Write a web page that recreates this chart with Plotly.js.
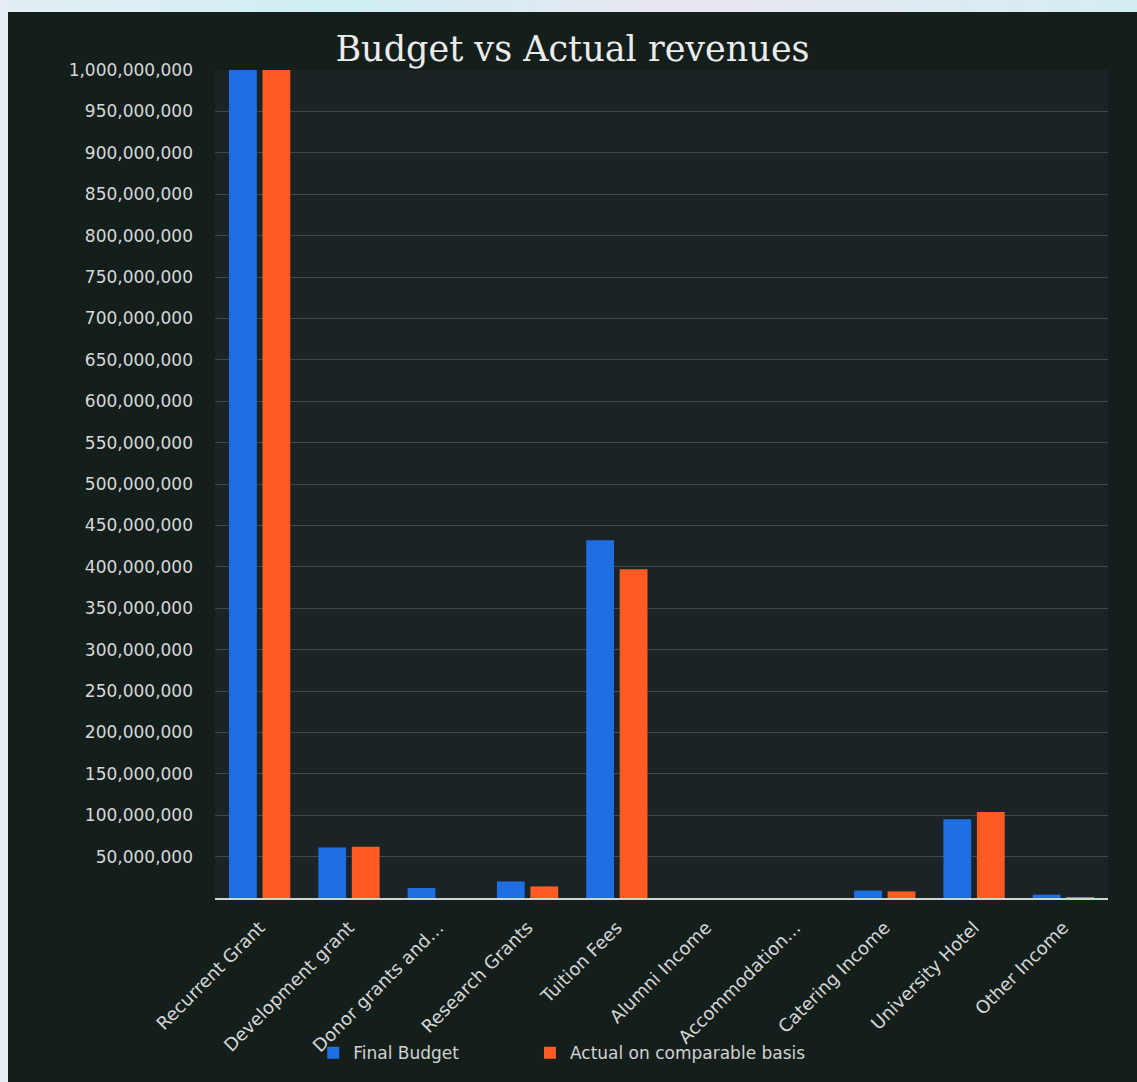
<!DOCTYPE html>
<html>
<head>
<meta charset="utf-8">
<script src="https://cdn.plot.ly/plotly-3.0.1.min.js"></script>
<style>
  html, body { margin: 0; padding: 0; width: 1137px; height: 1082px; overflow: hidden;
    background: linear-gradient(90deg, #e4eef4 0%, #cfeff3 30%, #e9e6f0 60%, #d4eef2 100%); }
  #chart { position: absolute; left: 8px; top: 12px; width: 1129px; height: 1070px; }
</style>
</head>
<body>
<div id="chart"></div>
<script>
const categories = [
  "Recurrent Grant",
  "Development grant",
  "Donor grants and…",
  "Research Grants",
  "Tuition Fees",
  "Alumni Income",
  "Accommodation…",
  "Catering Income",
  "University Hotel",
  "Other Income"
];
const finalBudget = [1000000000, 61000000, 12000000, 20000000, 432000000, 0, 0, 9000000, 95000000, 4000000];
const actualComparable = [1000000000, 62000000, 0, 14000000, 397000000, 0, 0, 8000000, 104000000, 1000000];

const yTickVals = [50000000, 100000000, 150000000, 200000000, 250000000, 300000000, 350000000,
  400000000, 450000000, 500000000, 550000000, 600000000, 650000000, 700000000, 750000000,
  800000000, 850000000, 900000000, 950000000, 1000000000];
const yTickText = ["50,000,000", "100,000,000", "150,000,000", "200,000,000", "250,000,000",
  "300,000,000", "350,000,000", "400,000,000", "450,000,000", "500,000,000", "550,000,000",
  "600,000,000", "650,000,000", "700,000,000", "750,000,000", "800,000,000", "850,000,000",
  "900,000,000", "950,000,000", "1,000,000,000"];

const traces = [
  { type: "bar", name: "Final Budget", x: categories, y: finalBudget, legend: "legend",
    marker: { color: "#1f6fe3" }, hoverinfo: "x+y" },
  { type: "bar", name: "Actual on comparable basis", x: categories, y: actualComparable, legend: "legend2",
    marker: { color: "#ff5b22" }, hoverinfo: "x+y" }
];

const legendFont = { family: "DejaVu Sans, sans-serif", size: 17, color: "#d0d2d2" };

const layout = {
  width: 1129, height: 1070,
  paper_bgcolor: "#141f1c",
  plot_bgcolor: "#1a2427",
  margin: { l: 207, r: 29, t: 58, b: 183 },
  title: { text: "Budget vs Actual revenues", x: 0.5, xanchor: "center", y: 0.966, yanchor: "middle",
    font: { family: "DejaVu Serif, serif", size: 35, color: "#ececec" } },
  barmode: "group",
  bargap: 0.25,
  bargroupgap: 0.17,
  xaxis: {
    type: "category",
    tickangle: -45,
    tickfont: { family: "DejaVu Sans, sans-serif", size: 18, color: "#d4d6d6" },
    showline: true, linecolor: "#cfd3d3", linewidth: 2,
    showgrid: false, ticks: "", zeroline: false, ticklabelstandoff: 10
  },
  yaxis: {
    range: [0, 1000000000],
    tickvals: yTickVals, ticktext: yTickText,
    tickfont: { family: "DejaVu Sans, sans-serif", size: 17, color: "#d6d8d8" },
    showgrid: true, gridcolor: "rgba(200,205,205,0.22)", gridwidth: 1,
    zeroline: false, showline: false, ticks: "", ticklabelstandoff: 21
  },
  legend: {
    orientation: "h", x: 0.110, xanchor: "left", y: -0.186, yanchor: "middle",
    font: legendFont, bgcolor: "rgba(0,0,0,0)"
  },
  legend2: {
    orientation: "h", x: 0.3527, xanchor: "left", y: -0.186, yanchor: "middle",
    font: legendFont, bgcolor: "rgba(0,0,0,0)"
  },
  showlegend: true
};

Plotly.newPlot("chart", traces, layout, { displayModeBar: false, responsive: false });
</script>
</body>
</html>
